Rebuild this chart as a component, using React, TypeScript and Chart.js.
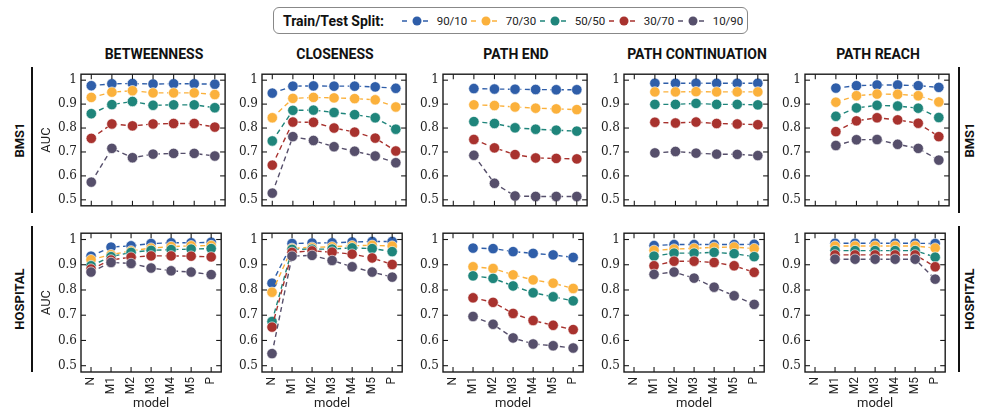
import React, { useEffect, useRef } from "react";
import { Chart, registerables } from "chart.js";

Chart.register(...registerables);

const categories = ["N", "M1", "M2", "M3", "M4", "M5", "P"];
const splits = ["90/10", "70/30", "50/50", "30/70", "10/90"];
const colors = ["#2f5ea9", "#fbb13c", "#1f857b", "#a8322e", "#564f6b"];
const yTickValues = [0.5, 0.6, 0.7, 0.8, 0.9, 1.0];
const yTickLabels = ["0.5", "0.6", "0.7", "0.8", "0.9", "1"];
const columnTitles = ["BETWEENNESS", "CLOSENESS", "PATH END", "PATH CONTINUATION", "PATH REACH"];
const rowTitles = ["BMS1", "HOSPITAL"];
const legendTitle = "Train/Test Split:";

const bms1Betweenness = [
  [0.977, 0.985, 0.986, 0.984, 0.985, 0.985, 0.983],
  [0.928, 0.95, 0.956, 0.947, 0.947, 0.947, 0.94],
  [0.86, 0.898, 0.911, 0.895, 0.897, 0.897, 0.885],
  [0.757, 0.817, 0.809, 0.817, 0.819, 0.819, 0.804],
  [0.574, 0.715, 0.676, 0.691, 0.694, 0.694, 0.683],
];
const bms1Closeness = [
  [0.946, 0.975, 0.976, 0.975, 0.975, 0.972, 0.966],
  [0.843, 0.924, 0.928, 0.926, 0.923, 0.918, 0.888],
  [0.746, 0.874, 0.875, 0.865, 0.856, 0.843, 0.795],
  [0.645, 0.825, 0.824, 0.8, 0.783, 0.758, 0.704],
  [0.528, 0.764, 0.748, 0.722, 0.703, 0.683, 0.655],
];
const bms1PathEnd = [
  [null, 0.965, 0.963, 0.962, 0.961, 0.96, 0.96],
  [null, 0.897, 0.894, 0.888, 0.883, 0.88, 0.877],
  [null, 0.827, 0.819, 0.801, 0.795, 0.791, 0.787],
  [null, 0.752, 0.717, 0.689, 0.675, 0.673, 0.671],
  [null, 0.686, 0.569, 0.516, 0.514, 0.514, 0.514],
];
const bms1PathContinuation = [
  [null, 0.987, 0.987, 0.987, 0.987, 0.987, 0.987],
  [null, 0.951, 0.951, 0.952, 0.951, 0.951, 0.951],
  [null, 0.899, 0.899, 0.903, 0.899, 0.899, 0.897],
  [null, 0.824, 0.821, 0.825, 0.819, 0.817, 0.814],
  [null, 0.696, 0.702, 0.695, 0.691, 0.69, 0.685],
];
const bms1PathReach = [
  [null, 0.967, 0.977, 0.98, 0.98, 0.977, 0.97],
  [null, 0.908, 0.935, 0.942, 0.941, 0.935, 0.909],
  [null, 0.849, 0.884, 0.895, 0.892, 0.883, 0.844],
  [null, 0.785, 0.83, 0.843, 0.834, 0.82, 0.764],
  [null, 0.727, 0.751, 0.752, 0.732, 0.715, 0.666],
];
const hospitalBetweenness = [
  [0.934, 0.97, 0.975, 0.984, 0.987, 0.987, 0.989],
  [0.92, 0.94, 0.955, 0.966, 0.972, 0.975, 0.976],
  [0.896, 0.932, 0.949, 0.957, 0.96, 0.962, 0.964],
  [0.883, 0.919, 0.93, 0.935, 0.935, 0.934, 0.931],
  [0.871, 0.909, 0.905, 0.887, 0.876, 0.871, 0.861],
];
const hospitalCloseness = [
  [0.827, 0.984, 0.986, 0.987, 0.99, 0.992, 0.992],
  [0.791, 0.965, 0.969, 0.971, 0.975, 0.977, 0.974],
  [0.675, 0.961, 0.962, 0.962, 0.967, 0.964, 0.952],
  [0.653, 0.949, 0.955, 0.95, 0.942, 0.927, 0.901],
  [0.548, 0.934, 0.937, 0.917, 0.892, 0.871, 0.851],
];
const hospitalPathEnd = [
  [null, 0.966, 0.964, 0.952, 0.945, 0.939, 0.929],
  [null, 0.892, 0.885, 0.86, 0.84, 0.827, 0.806],
  [null, 0.856, 0.846, 0.816, 0.789, 0.773, 0.757],
  [null, 0.769, 0.751, 0.707, 0.679, 0.66, 0.643],
  [null, 0.695, 0.664, 0.61, 0.586, 0.579, 0.57],
];
const hospitalPathContinuation = [
  [null, 0.976, 0.98, 0.98, 0.98, 0.98, 0.981],
  [null, 0.957, 0.962, 0.965, 0.969, 0.97, 0.964],
  [null, 0.934, 0.946, 0.946, 0.949, 0.944, 0.932],
  [null, 0.896, 0.914, 0.914, 0.909, 0.896, 0.87],
  [null, 0.862, 0.871, 0.847, 0.811, 0.777, 0.743],
];
const hospitalPathReach = [
  [null, 0.985, 0.985, 0.985, 0.985, 0.985, 0.984],
  [null, 0.974, 0.974, 0.974, 0.974, 0.974, 0.966],
  [null, 0.956, 0.956, 0.956, 0.956, 0.956, 0.93],
  [null, 0.939, 0.939, 0.939, 0.939, 0.939, 0.892],
  [null, 0.922, 0.922, 0.922, 0.922, 0.922, 0.843],
];

const panelData = [
  [bms1Betweenness, bms1Closeness, bms1PathEnd, bms1PathContinuation, bms1PathReach],
  [hospitalBetweenness, hospitalCloseness, hospitalPathEnd, hospitalPathContinuation, hospitalPathReach],
];

// layout (pixels)
const PLOT_LEFT = [81, 262, 443, 624, 805];
const PLOT_TOP = [67, 226];
const PLOT_SIZE = 146;
const Y_AXIS_W = 42;
const PAD = 4;
const X_AXIS_H = 40;

const framePlugin = {
  id: "frame",
  afterDraw(chart: any) {
    const { ctx, chartArea } = chart;
    const { left, right, top, bottom } = chartArea;
    const x = chart.scales.x;
    const y = chart.scales.y;
    ctx.save();
    ctx.strokeStyle = "#1a1a1a";
    ctx.lineWidth = 1.1;
    const seg = (x1: number, y1: number, x2: number, y2: number) => {
      ctx.beginPath();
      ctx.moveTo(x1, y1);
      ctx.lineTo(x2, y2);
      ctx.stroke();
    };
    yTickValues.forEach((v) => {
      const py = y.getPixelForValue(v);
      seg(left, py, left + 5, py);
      seg(right - 5, py, right, py);
    });
    categories.forEach((_, i) => {
      const px = x.getPixelForValue(i);
      seg(px, bottom, px, bottom - 5);
      seg(px, top, px, top + 5);
    });
    ctx.lineWidth = 1.4;
    ctx.strokeRect(left, top, right - left, bottom - top);
    ctx.restore();
  },
};

function Panel({ row, col }: { row: number; col: number }) {
  const ref = useRef<HTMLCanvasElement>(null);
  const series = panelData[row][col];
  useEffect(() => {
    if (!ref.current) return;
    const chart = new Chart(ref.current, {
      type: "line",
      data: {
        labels: categories,
        datasets: series.map((vals: any, i: number) => ({
          label: splits[i],
          data: vals,
          borderColor: colors[i],
          backgroundColor: colors[i],
          pointBackgroundColor: colors[i],
          pointBorderColor: "rgba(255,255,255,0.85)",
          pointBorderWidth: 0.7,
          pointRadius: 5.2,
          borderWidth: 1.4,
          borderDash: [5, 3.5],
          order: splits.length - i,
          fill: false,
          tension: 0,
        })),
      },
      options: {
        animation: false,
        responsive: true,
        maintainAspectRatio: false,
        events: [],
        layout: { padding: { left: 0, top: PAD, right: PAD, bottom: 0 } },
        plugins: { legend: { display: false }, tooltip: { enabled: false } },
        scales: {
          x: {
            type: "category",
            offset: true,
            grid: { display: false, drawTicks: false },
            border: { display: false },
            ticks: {
              display: row === 1,
              minRotation: 90,
              maxRotation: 90,
              autoSkip: false,
              padding: 5,
              color: "#222",
              font: { family: "Roboto", size: 12 },
            },
            title: {
              display: row === 1,
              text: "model",
              color: "#222",
              padding: 0,
              font: { family: "Roboto", size: 13, lineHeight: 1.2 },
            },
            afterFit: (s: any) => {
              s.height = row === 1 ? X_AXIS_H : PAD;
            },
          },
          y: {
            type: "linear",
            min: 0.475,
            max: 1.025,
            afterBuildTicks: (s: any) => {
              s.ticks = yTickValues.map((v) => ({ value: v }));
            },
            grid: { display: false, drawTicks: false },
            border: { display: false },
            ticks: {
              padding: 4,
              color: "#222",
              font: { family: "DejaVu Serif", size: 12 },
              callback: (v: any) => {
                const k = yTickValues.indexOf(Number(v));
                return k >= 0 ? yTickLabels[k] : "";
              },
            },
            title: {
              display: col === 0,
              text: "AUC",
              color: "#222",
              padding: 0,
              font: { family: "Roboto", size: 13, lineHeight: 1.2 },
            },
            afterFit: (s: any) => {
              s.width = Y_AXIS_W;
            },
          },
        },
      } as any,
      plugins: [framePlugin],
    });
    return () => chart.destroy();
  }, [row, col]);

  const left = PLOT_LEFT[col] - Y_AXIS_W;
  const top = PLOT_TOP[row] - PAD;
  const width = Y_AXIS_W + PLOT_SIZE + PAD;
  const height = PAD + PLOT_SIZE + (row === 1 ? X_AXIS_H : PAD);
  return (
    <div style={{ position: "absolute", left, top, width, height }}>
      <canvas ref={ref} />
    </div>
  );
}

function RotatedLabel({ text, cx, cy }: { text: string; cx: number; cy: number }) {
  return (
    <div
      style={{
        position: "absolute",
        left: cx,
        top: cy,
        transform: "translate(-50%, -50%) rotate(-90deg)",
        whiteSpace: "nowrap",
        fontFamily: "Roboto",
        fontWeight: 700,
        fontSize: 13,
        lineHeight: "14px",
        color: "#111",
      }}
    >
      {text}
    </div>
  );
}

function LegendMarker({ color }: { color: string }) {
  return (
    <svg width={30} height={12} style={{ display: "block" }}>
      <line x1={0} y1={6} x2={30} y2={6} stroke={color} strokeWidth={1.5} strokeDasharray="5 16 5 4" />
      <circle cx={15} cy={6} r={4.5} fill={color} />
    </svg>
  );
}

export default function App() {
  return (
    <div
      style={{
        position: "absolute",
        left: 0,
        top: 0,
        width: 987,
        height: 414,
        overflow: "hidden",
        background: "#fff",
        fontFamily: "Roboto",
      }}
    >
      {/* Legend */}
      <div
        style={{
          position: "absolute",
          left: 273,
          top: 7,
          width: 475,
          height: 27,
          boxSizing: "border-box",
          border: "1px solid #888",
          borderRadius: 6,
        }}
      />
      <div
        style={{
          position: "absolute",
          left: 283,
          top: 7,
          height: 27,
          display: "flex",
          alignItems: "center",
          fontWeight: 700,
          fontSize: 14,
          color: "#111",
          whiteSpace: "nowrap",
        }}
      >
        {legendTitle}
      </div>
      {splits.map((s, i) => (
        <React.Fragment key={s}>
          <div style={{ position: "absolute", left: 401.7 + 69 * i, top: 14.5 }}>
            <LegendMarker color={colors[i]} />
          </div>
          <div
            style={{
              position: "absolute",
              left: 436.7 + 69 * i,
              top: 7,
              height: 27,
              display: "flex",
              alignItems: "center",
              fontSize: 11.5,
              color: "#222",
              whiteSpace: "nowrap",
            }}
          >
            {s}
          </div>
        </React.Fragment>
      ))}

      {/* Column titles */}
      {columnTitles.map((t, c) => (
        <div
          key={t}
          style={{
            position: "absolute",
            left: PLOT_LEFT[c] + PLOT_SIZE / 2 - 100,
            top: 46,
            width: 200,
            height: 17,
            lineHeight: "17px",
            textAlign: "center",
            fontWeight: 700,
            fontSize: 14,
            color: "#111",
            whiteSpace: "nowrap",
          }}
        >
          {t}
        </div>
      ))}

      {/* Row labels and bars */}
      {rowTitles.map((t, r) => (
        <React.Fragment key={t}>
          <RotatedLabel text={t} cx={20} cy={PLOT_TOP[r] + PLOT_SIZE / 2} />
          <RotatedLabel text={t} cx={970} cy={PLOT_TOP[r] + PLOT_SIZE / 2} />
          <div style={{ position: "absolute", left: 31, top: PLOT_TOP[r], width: 2, height: PLOT_SIZE, background: "#111" }} />
          <div style={{ position: "absolute", left: 957.5, top: PLOT_TOP[r], width: 2, height: PLOT_SIZE, background: "#111" }} />
        </React.Fragment>
      ))}

      {/* Panels */}
      {[0, 1].map((r) =>
        [0, 1, 2, 3, 4].map((c) => <Panel key={`${r}-${c}`} row={r} col={c} />)
      )}
    </div>
  );
}
